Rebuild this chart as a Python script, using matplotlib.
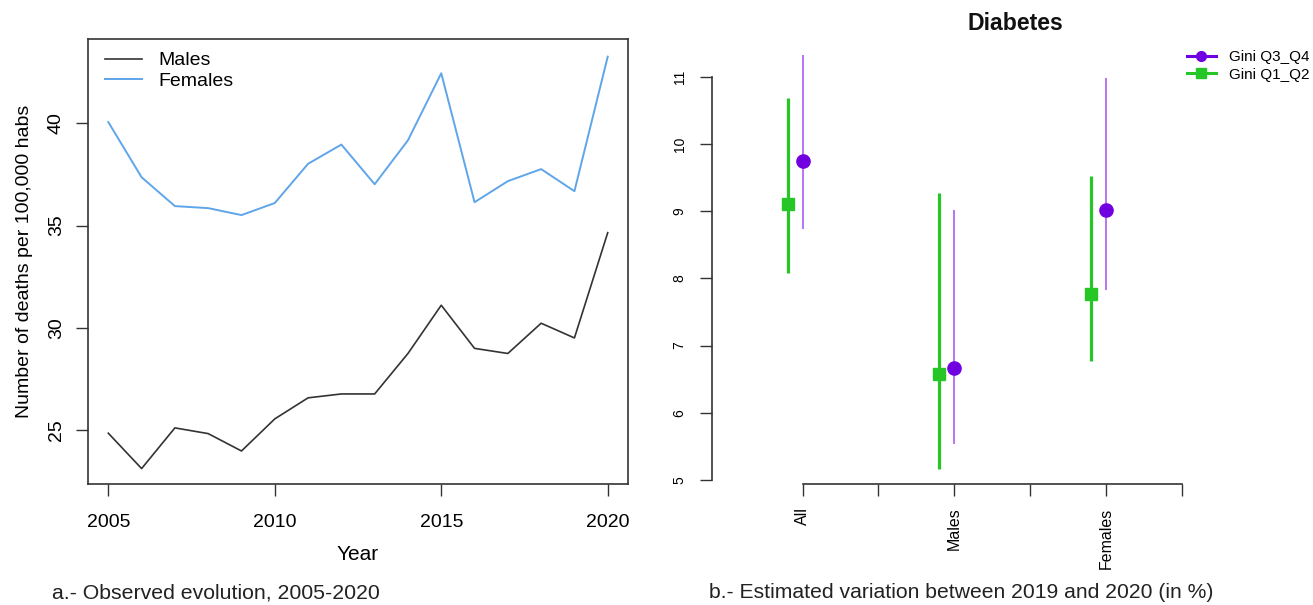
import numpy as np
import matplotlib
matplotlib.use("Agg")
import matplotlib.pyplot as plt
from matplotlib.lines import Line2D

plt.rcParams['font.family'] = ['Liberation Sans', 'DejaVu Sans']

# panel a data: deaths per 100,000 habs
years = np.arange(2005, 2021)
males = [24.84, 23.11, 25.10, 24.82, 23.97, 25.54, 26.57, 26.76,
         26.76, 28.74, 31.10, 28.99, 28.74, 30.22, 29.50, 34.65]
females = [40.06, 37.36, 35.95, 35.85, 35.51, 36.10, 38.02, 38.96,
           37.02, 39.17, 42.45, 36.14, 37.17, 37.76, 36.68, 43.26]

# panel b data: estimated variation 2019-2020 (%)
groups = ["All", "Males", "Females"]
q34_est = [9.75, 6.67, 9.01]
q34_lo = [8.74, 5.54, 7.82]
q34_hi = [11.32, 9.02, 10.98]
q12_est = [9.10, 6.57, 7.77]
q12_lo = [8.08, 5.16, 6.77]
q12_hi = [10.69, 9.27, 9.53]

W, H = 1313, 605
fig = plt.figure(figsize=(W / 100, H / 100), dpi=100, facecolor='white')


def px_axes(left, top, right, bottom):
    return fig.add_axes([left / W, (H - bottom) / H, (right - left) / W, (bottom - top) / H])


# ---- panel a ----
ax1 = px_axes(88, 39.3, 627.7, 484.3)
ax1.plot(years, males, color='#333333', lw=1.2, label='Males')
ax1.plot(years, females, color='#5fa5ea', lw=1.4, label='Females')
ax1.set_xlim(2004.39, 2020.6)
ax1.set_ylim(22.34, 44.11)
ax1.set_xticks([2005, 2010, 2015, 2020])
ax1.set_yticks([25, 30, 35, 40])
ax1.tick_params(axis='both', length=8.6, width=1.0, color='#333333', labelsize=14)
ax1.tick_params(axis='x', pad=13)
ax1.tick_params(axis='y', pad=8)
for lab in ax1.get_yticklabels():
    lab.set_rotation(90)
    lab.set_va('center')
for s in ax1.spines.values():
    s.set_color('#333333')
    s.set_linewidth(1.2)
ax1.set_xlabel('Year', fontsize=15, labelpad=10)
ax1.set_ylabel('Number of deaths per 100,000 habs', fontsize=14, labelpad=11)
ax1.legend(loc='upper left', bbox_to_anchor=(0.0315, 0.972), frameon=False,
           fontsize=14, borderpad=0, borderaxespad=0, handlelength=1.9,
           handletextpad=0.85, labelspacing=0.15)

fig.text(52 / W, (H - 593) / H, 'a.- Observed evolution, 2005-2020',
         fontsize=15.3, ha='left', va='center', color='#222222')

# ---- panel b ----
ax2 = px_axes(711.7, 43.1, 1300, 484.3)
xpos = np.arange(1, len(groups) + 1)
purple_line = '#a34ef2'
purple_pt = '#7100e0'
green = '#25c625'

q12_est_a = np.array(q12_est)
q34_est_a = np.array(q34_est)
ax2.errorbar(xpos - 0.1, q12_est_a,
             yerr=[q12_est_a - np.array(q12_lo), np.array(q12_hi) - q12_est_a],
             fmt='s', color=green, ecolor=green, elinewidth=2.3, capsize=0,
             markersize=8.5, mec=green, mfc=green)
ax2.errorbar(xpos, q34_est_a,
             yerr=[q34_est_a - np.array(q34_lo), np.array(q34_hi) - q34_est_a],
             fmt='o', color=purple_pt, ecolor=purple_line, elinewidth=1.1, capsize=0,
             markersize=9.5, mec=purple_pt, mfc=purple_pt)

ax2.set_xlim(0.4, 4.28)
ax2.set_ylim(4.936, 11.5)
ax2.set_xticks([1, 1.5, 2, 2.5, 3, 3.5])
ax2.set_xticklabels(['All', '', 'Males', '', 'Females', ''], rotation=90, va='top')
ax2.set_yticks([5, 6, 7, 8, 9, 10, 11])
ax2.tick_params(axis='both', length=8.6, width=1.0, color='#333333')
ax2.tick_params(axis='x', pad=8, labelsize=11.5)
ax2.tick_params(axis='y', pad=9.5, labelsize=10)
for lab in ax2.get_yticklabels():
    lab.set_rotation(90)
    lab.set_va('center')
ax2.spines['top'].set_visible(False)
ax2.spines['right'].set_visible(False)
ax2.spines['left'].set_bounds(5, 11)
ax2.spines['bottom'].set_bounds(1, 3.5)
for s in ('left', 'bottom'):
    ax2.spines[s].set_color('#333333')
    ax2.spines[s].set_linewidth(1.2)

fig.text(1015 / W, (H - 23) / H, 'Diabetes', fontsize=16.6, fontweight='bold',
         ha='center', va='center', color='#111111')

handles = [Line2D([], [], color=purple_pt, lw=2.2, marker='o', markersize=7),
           Line2D([], [], color=green, lw=2.2, marker='s', markersize=6.5)]
fig.legend(handles, ['Gini Q3_Q4', 'Gini Q1_Q2'], loc='upper left',
           bbox_to_anchor=(1186.7 / W, (H - 50.5) / H), frameon=False,
           fontsize=11, borderpad=0, borderaxespad=0, handlelength=1.9,
           handletextpad=0.85, labelspacing=0.2)

fig.text(709 / W, (H - 593) / H,
         'b.- Estimated variation between 2019 and 2020 (in %)',
         fontsize=15.2, ha='left', va='center', color='#222222')

fig.savefig('out.png', dpi=100, facecolor='white')
